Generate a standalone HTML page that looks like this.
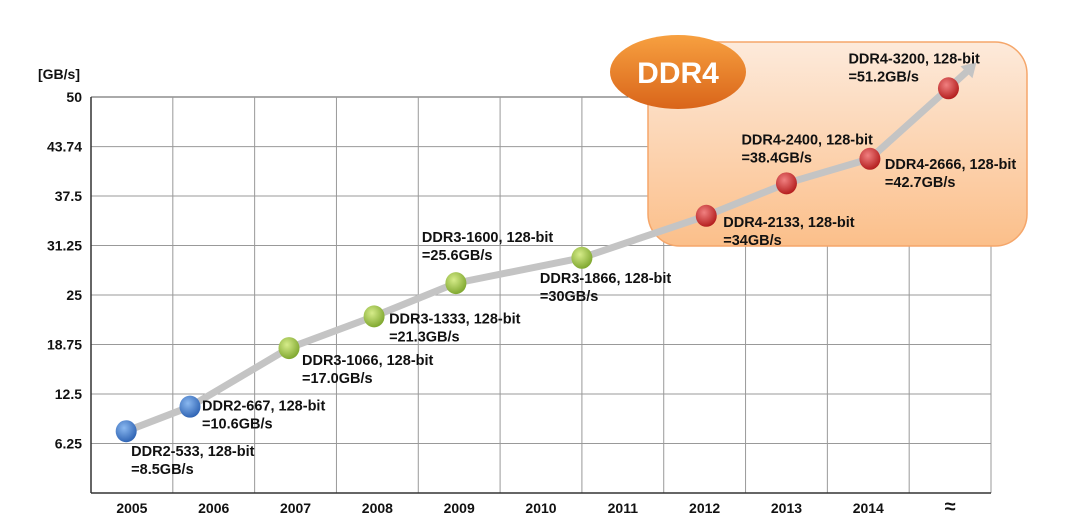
<!DOCTYPE html>
<html><head><meta charset="utf-8"><style>
body{margin:0;background:#fff;}
svg{display:block;font-family:"Liberation Sans",sans-serif;}
</style></head><body>
<svg id="chart" width="1067" height="531" viewBox="0 0 1067 531">
<defs>
<linearGradient id="boxg" x1="0" y1="0" x2="0" y2="1"><stop offset="0" stop-color="#fdeadb"/><stop offset="1" stop-color="#fbbf8a"/></linearGradient>
<linearGradient id="ellg" x1="0" y1="0" x2="0" y2="1"><stop offset="0" stop-color="#f7a040"/><stop offset="1" stop-color="#d9651a"/></linearGradient>
<radialGradient id="gblue" cx="0.4" cy="0.35" r="0.7"><stop offset="0" stop-color="#8ab8f0"/><stop offset="1" stop-color="#2a5fb0"/></radialGradient>
<radialGradient id="ggreen" cx="0.4" cy="0.35" r="0.7"><stop offset="0" stop-color="#d6ec8a"/><stop offset="1" stop-color="#7aa32a"/></radialGradient>
<radialGradient id="gred" cx="0.4" cy="0.35" r="0.7"><stop offset="0" stop-color="#f08080"/><stop offset="1" stop-color="#b01818"/></radialGradient>
</defs>
<g id="grid"></g>
<rect x="648" y="42" width="379" height="204" rx="32" fill="url(#boxg)" stroke="#f5a66a" stroke-width="1.5"/>
<ellipse cx="678" cy="72" rx="68" ry="37" fill="url(#ellg)"/>
<text x="678" y="83" text-anchor="middle" font-size="30" font-weight="bold" fill="#fff">DDR4</text>
<g id="series"></g>
<text x="38" y="79" font-size="14" font-weight="bold" fill="#111">[GB/s]</text>
</svg>
<script>
const categories=["2005","2006","2007","2008","2009","2010","2011","2012","2013","2014","≈"];
const yTicks=[50,43.74,37.5,31.25,25,18.75,12.5,6.25];
const pointX=[0.43,1.21,2.42,3.46,4.46,6.0,7.52,8.5,9.52,10.48];
const pointValues=[7.8,10.9,18.3,22.3,26.5,29.7,35.0,39.1,42.2,51.1];
const pointGen=["blue","blue","green","green","green","green","red","red","red","red"];
const labelLine1=["DDR2-533, 128-bit","DDR2-667, 128-bit","DDR3-1066, 128-bit","DDR3-1333, 128-bit","DDR3-1600, 128-bit","DDR3-1866, 128-bit","DDR4-2133, 128-bit","DDR4-2400, 128-bit","DDR4-2666, 128-bit","DDR4-3200, 128-bit"];
const labelLine2=["=8.5GB/s","=10.6GB/s","=17.0GB/s","=21.3GB/s","=25.6GB/s","=30GB/s","=34GB/s","=38.4GB/s","=42.7GB/s","=51.2GB/s"];
const labelDX=[5,12,13,15,-34,-42,17,-45,15,-100];
const labelDY=[25,4,17,7,-41,25,11,-39,10,-25];

const L=91,R=991,T=97,B=493,YMAX=50;
const colW=(R-L)/categories.length;
const xs=i=>L+i*colW;
const ys=v=>B-(v/YMAX)*(B-T);
const NS="http://www.w3.org/2000/svg";
function mk(tag,attrs,parent){const e=document.createElementNS(NS,tag);for(const k in attrs)e.setAttribute(k,attrs[k]);parent.appendChild(e);return e;}
const grid=document.getElementById('grid');
yTicks.forEach(t=>{
  const l=mk('line',{x1:L,x2:R,y1:ys(t),y2:ys(t),stroke:t===50?'#555':'#999','stroke-width':1},grid);
  
  
  const tx=mk('text',{x:L-9,y:ys(t)+5,'text-anchor':'end','font-size':14,'font-weight':'bold',fill:'#111'},grid);
  tx.textContent=t;
  
  
});
for(let i=1;i<=categories.length;i++){
  const l=mk('line',{x1:xs(i),x2:xs(i),y1:T,y2:B,stroke:'#999','stroke-width':1},grid);
  
  
}
categories.forEach((c,i)=>{
  const tx=mk('text',{x:xs(i+0.5),y:513,'text-anchor':'middle','font-size':c==='≈'?20:14,'font-weight':'bold',fill:'#111'},grid);
  tx.textContent=c;
  
  
});
const ya=mk('line',{x1:L,x2:L,y1:T,y2:B,stroke:'#333','stroke-width':1.5},grid);


const xa=mk('line',{x1:L,x2:R,y1:B,y2:B,stroke:'#333','stroke-width':1.5},grid);



const s=document.getElementById('series');
let d=pointX.map((x,i)=>(i?'L':'M')+xs(x)+','+ys(pointValues[i])).join(' ');
const n=pointX.length;
const ex=xs(pointX[n-1])+22, ey=ys(pointValues[n-1])-20;
d+=' L'+ex+','+ey;
const line=mk('path',{d:d,fill:'none',stroke:'#c4c4c4','stroke-width':7,'stroke-linejoin':'round'},s);


const ah=mk('polygon',{points:(ex+6)+','+(ey-6)+' '+(ex-10)+','+(ey-2)+' '+(ex+2)+','+(ey+10),fill:'#c4c4c4'},s);


pointX.forEach((x,i)=>{
  const cx=xs(x),cy=ys(pointValues[i]);
  const c=mk('ellipse',{cx:cx,cy:cy,rx:10.5,ry:11,fill:'url(#g'+pointGen[i]+')'},s);
  
  
  const t1=mk('text',{x:cx+labelDX[i],y:cy+labelDY[i],'font-size':14.5,'font-weight':'bold',fill:'#111'},s);
  t1.textContent=labelLine1[i];
  
  
  const t2=mk('text',{x:cx+labelDX[i],y:cy+labelDY[i]+18,'font-size':14.5,'font-weight':'bold',fill:'#111'},s);
  t2.textContent=labelLine2[i];
  
  
});
</script>
</body></html>
